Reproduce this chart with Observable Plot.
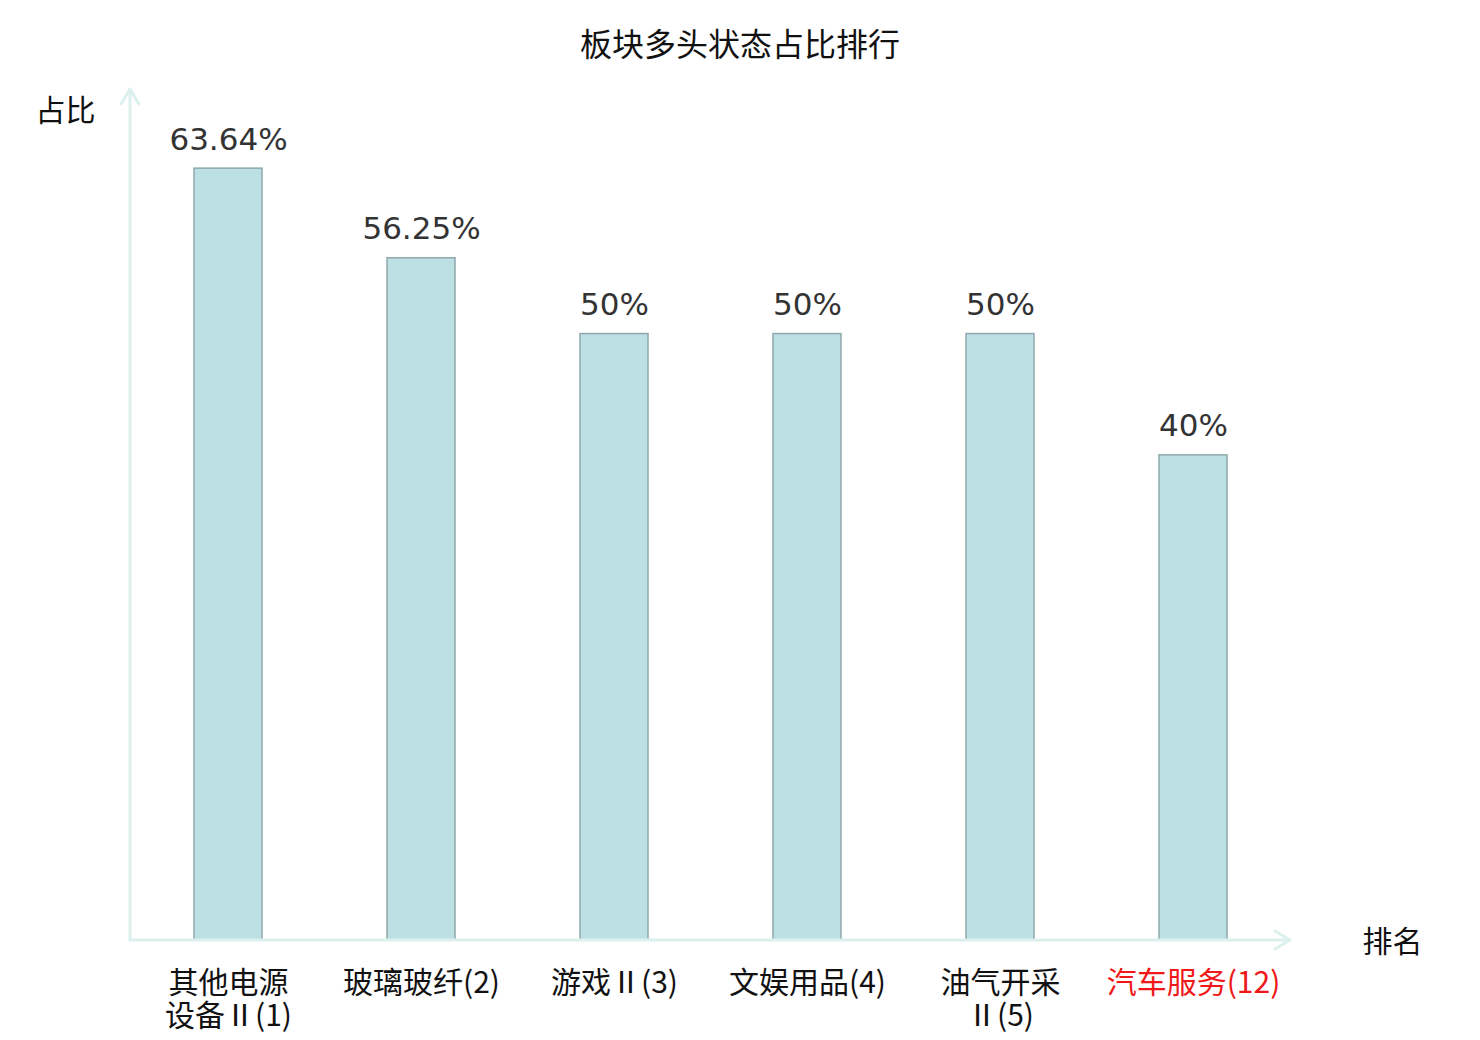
<!DOCTYPE html>
<html>
<head>
<meta charset="utf-8">
<script src="https://cdn.jsdelivr.net/npm/d3@7"></script>
<script src="https://cdn.jsdelivr.net/npm/@observablehq/plot@0.6"></script>
<style>
  html, body { margin: 0; padding: 0; background: #fff; }
  #wrap { width: 1480px; height: 1040px; position: relative; }
  #title { height: 70px; line-height: 84px; text-align: center; font-family: "Noto Sans CJK SC", sans-serif; font-size: 32px; color: #111; }
</style>
</head>
<body>
<div id="wrap">
  <div id="title">板块多头状态占比排行</div>
  <div id="chart"></div>
</div>
<script>
const categories = ["其他电源设备Ⅱ", "玻璃玻纤", "游戏Ⅱ", "文娱用品", "油气开采Ⅱ", "汽车服务"];
const tickLabels = ["其他电源\n设备Ⅱ(1)", "玻璃玻纤(2)", "游戏Ⅱ(3)", "文娱用品(4)", "油气开采\nⅡ(5)", "汽车服务(12)"];
const shares = [63.64, 56.25, 50, 50, 50, 40];
const valueLabels = ["63.64%", "56.25%", "50%", "50%", "50%", "40%"];
const highlighted = [false, false, false, false, false, true];

const data = categories.map((c, i) => ({
  name: c, value: shares[i], label: valueLabels[i], tick: tickLabels[i], hi: highlighted[i]
}));

const axisColor = "#dcf1ee";

function axesWithArrows(index, scales, values, dims) {
  const g = d3.create("svg:g");
  const x0 = dims.marginLeft, y0 = dims.height - dims.marginBottom;
  const x1 = dims.width - dims.marginRight, yTop = dims.marginTop - 2;
  const st = {stroke: axisColor, "stroke-width": 3, fill: "none", "stroke-linecap": "round", "stroke-linejoin": "round"};
  const add = (d) => { const p = g.append("path").attr("d", d); for (const k in st) p.attr(k, st[k]); };
  add(`M${x0},${y0}L${x0},${yTop}`);
  add(`M${x0 - 9},${yTop + 15}L${x0},${yTop}L${x0 + 9},${yTop + 15}`);
  add(`M${x0},${y0}L${x1},${y0}`);
  add(`M${x1 - 15},${y0 - 9}L${x1},${y0}L${x1 - 15},${y0 + 9}`);
  return g.node();
}

const chart = Plot.plot({
  width: 1480,
  height: 970,
  marginLeft: 130,
  marginRight: 190,
  marginTop: 21,
  marginBottom: 100,
  style: {fontFamily: "'Noto Sans CJK SC', sans-serif", background: "#fff"},
  x: {domain: categories, paddingInner: 0.65, paddingOuter: 0.325, axis: null},
  y: {domain: [0, 70], axis: null},
  marks: [
    Plot.barY(data, {x: "name", y: "value", fill: "#bce0e3", stroke: "#8fa9aa", strokeWidth: 1.5}),
    axesWithArrows,
    Plot.text(data, {x: "name", y: "value", text: "label", lineAnchor: "bottom", dy: -19,
      fontSize: 31, fill: "#333", fontFamily: "'DejaVu Sans', sans-serif"}),
    Plot.text(data, {x: "name", text: "tick", frameAnchor: "bottom", lineAnchor: "top", dy: 29,
      fontSize: 30, lineHeight: 1.1, fill: d => d.hi ? "#f01818" : "#111"}),
    Plot.text(["占比"], {frameAnchor: "top-left", dx: -95, dy: 8, text: d => d, fontSize: 30, fill: "#111", lineAnchor: "top"}),
    Plot.text(["排名"], {frameAnchor: "bottom-right", dx: 72, dy: 2, text: d => d, fontSize: 30, fill: "#111", lineAnchor: "middle", textAnchor: "start"})
  ]
});
document.getElementById("chart").appendChild(chart);
</script>
</body>
</html>
